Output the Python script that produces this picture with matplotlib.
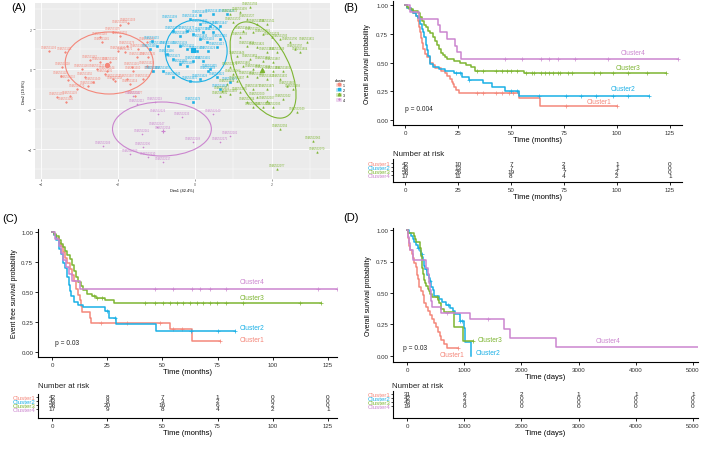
import numpy as np
import matplotlib.pyplot as plt
from matplotlib.patches import Ellipse, Patch
from matplotlib.lines import Line2D

plt.rcParams['font.family'] = ['Liberation Sans', 'DejaVu Sans']

clusters = ['Cluster1', 'Cluster2', 'Cluster3', 'Cluster4']
colors = ['#F4877A', '#1AB0E6', '#7DB532', '#CB85CF']

# ---------------- (A) cluster plot on the first two dimensions
pa1_x = [-3.79, -3.38, -3.45, -3.48, -3.30, -3.25, -3.35, -3.58, -2.94, -2.73, -2.47, -2.42, -2.47, -2.13,
         -1.95, -1.74, -1.95, -2.00, -2.21, -2.55, -2.29, -2.13, -2.08, -1.64, -1.82, -1.77, -1.48, -1.51,
         -1.61, -1.77, -1.69, -1.35, -1.25, -1.22, -1.25, -2.65, -2.86, -1.12, -3.06, -1.56, -2.78, -2.34]
pa1_y = [0.90, 0.85, 0.10, -0.35, -0.55, -1.35, -1.65, -1.40, 0.00, 0.45, 0.35, 1.35, 1.60, 1.85,
         2.20, 2.30, 1.65, 0.90, 0.35, 0.00, -0.10, -0.50, -0.60, 0.10, 0.85, 1.15, 1.00, 0.60,
         -0.10, -0.50, -0.75, -0.50, 0.15, 0.60, 1.35, -0.65, -0.40, -0.10, -1.00, -1.35, -0.85, -0.25]
pa2_x = [-0.65, 0.13, -0.13, 0.47, 0.83, 0.13, 0.39, 0.65, 0.47, 0.21, -0.05, -0.21, -0.57, -0.39, 0.13,
         0.31, 0.65, 0.57, 0.34, -0.21, -0.39, -0.70, -1.12, -0.99, -0.73, -0.57, -0.39, -0.21, -0.05,
         0.21, 0.34, 0.39, 0.57, 0.13, -0.13, -0.57, -0.83, -1.09, 0.65, 0.91, -0.05, -1.17, 0.05]
pa2_y = [2.45, 2.70, 2.50, 2.75, 2.75, 2.25, 2.15, 2.15, 1.85, 1.85, 1.75, 1.90, 1.90, 1.65, 1.50,
         1.35, 1.50, 1.10, 0.90, 1.00, 1.15, 1.15, 1.40, 1.15, 0.75, 0.50, 0.25, 0.15, 0.40,
         0.40, -0.10, 0.00, -0.40, -0.50, -0.60, -0.40, -0.10, -0.10, -1.00, -0.65, -1.65, 1.00, 0.90]
pa3_x = [1.17, 1.43, 0.91, 0.99, 1.35, 1.61, 1.87, 1.25, 1.51, 1.77, 1.17, 2.00, 2.21, 2.47, 2.60,
         2.73, 2.91, 1.35, 1.61, 1.87, 2.13, 1.09, 1.43, 1.77, 2.03, 0.91, 1.25, 1.51, 2.03, 2.29,
         1.35, 1.61, 1.87, 2.21, 1.09, 0.83, 0.70, 0.91, 1.17, 1.51, 1.87, 2.39, 2.55, 1.61, 1.87,
         1.35, 1.51, 1.77, 2.03, 2.29, 2.65, 2.21, 3.06, 3.17, 2.13, 0.99, 0.65, 1.77]
pa3_y = [2.85, 3.10, 2.75, 2.35, 2.50, 2.25, 2.25, 1.90, 1.85, 1.75, 1.60, 1.60, 1.50, 1.35, 1.00,
         0.85, 1.35, 1.15, 1.10, 0.85, 0.85, 0.65, 0.50, 0.40, 0.35, 0.10, 0.15, 0.00, -0.10, -0.10,
         -0.35, -0.40, -0.50, -0.50, -0.60, -0.75, -1.10, -1.25, -1.15, -1.00, -1.00, -0.85, -1.00, -1.40, -1.60,
         -1.65, -1.90, -1.90, -1.90, -1.50, -2.15, -3.00, -3.60, -4.15, -5.00, -0.25, -1.35, -0.05]
pa4_x = [-1.61, -1.51, -1.04, -0.96, -0.34, 0.47, -0.99, -0.83, -1.38, -0.05, 0.65, 0.91, -2.39, -1.35,
         -1.69, -1.22, -0.83]
pa4_y = [-1.35, -1.75, -1.65, -2.25, -2.40, -2.25, -2.90, -3.10, -3.25, -3.65, -3.65, -3.35, -3.85, -3.90,
         -4.25, -4.40, -4.65]

ell_cx = [-2.23, 0.03, 1.77, -0.86]
ell_cy = [0.30, 0.90, -0.05, -3.00]
ell_w = [2.29, 1.61, 4.9, 2.57]
ell_h = [3.10, 3.10, 1.45, 2.70]
ell_ang = [0, 0, -78.7, 0]

sample_ids = [f"GSM{2531104 + 7 * i}" for i in range(160)]

# ---------------- (B) overall survival, months
os1_t = [0, 1, 3, 4, 5, 6, 6.5, 7, 7.5, 8, 8.5, 9.5, 10.5, 12, 13, 14, 17, 19, 20, 21, 22, 22.5, 23, 24, 25.5, 54, 63.5]
os1_s = [1.0, 0.976, 0.952, 0.929, 0.905, 0.857, 0.810, 0.762, 0.714, 0.667, 0.619, 0.571, 0.548, 0.500,
         0.476, 0.452, 0.429, 0.405, 0.381, 0.357, 0.333, 0.310, 0.286, 0.262, 0.238, 0.19, 0.125]
os2_t = [0, 1, 3, 4, 5, 6, 7, 8, 8.5, 9, 10, 10.5, 11, 12, 13, 16, 19, 23, 27, 30, 37, 41, 47, 54]
os2_s = [1.0, 0.977, 0.953, 0.930, 0.907, 0.884, 0.837, 0.791, 0.767, 0.721, 0.651, 0.605, 0.558, 0.488,
         0.465, 0.442, 0.430, 0.407, 0.375, 0.344, 0.318, 0.291, 0.254, 0.212]
os3_t = [0, 1, 2, 4, 6, 7, 8, 9, 10, 11, 12, 13, 14, 15, 16, 17, 18, 19, 20, 23, 26, 29, 31, 33, 56]
os3_s = [1.0, 0.983, 0.966, 0.948, 0.931, 0.897, 0.862, 0.828, 0.810, 0.776, 0.759, 0.724, 0.690, 0.655,
         0.621, 0.586, 0.569, 0.552, 0.534, 0.517, 0.499, 0.481, 0.463, 0.430, 0.405]
os4_t = [0, 2.5, 6.5, 15.5, 16.5, 20, 23.5, 24.5, 26.5]
os4_s = [1.0, 0.941, 0.882, 0.824, 0.765, 0.706, 0.647, 0.588, 0.529]
os_end = [100, 115, 123, 129]
os1_c = [34, 37, 43, 46, 49, 51, 76, 100]
os2_c = [24, 26, 30, 50, 53, 63, 76, 83, 90, 98, 105, 115]
os3_c = [34, 37, 43, 46, 48, 50, 53, 57, 60, 61, 64, 66, 68, 70, 72, 73, 77, 79, 89, 92, 98, 105, 114, 123]
os4_c = [47, 55, 64, 68, 72, 80, 96, 129]
os_lab_t = [91.5, 102.8, 105, 107.5]
os_lab_s = [0.157, 0.27, 0.46, 0.59]
os_risk = [[42, 10, 7, 2, 1, 0], [43, 13, 7, 4, 1, 0], [58, 26, 19, 7, 2, 0], [17, 11, 8, 4, 2, 1]]

# ---------------- (C) event free survival, months
efs1_t = [0, 1, 2, 3, 4, 5, 6, 7, 8, 9, 10, 11, 12, 12.5, 13, 13.5, 17, 17.5, 53.5, 63.5]
efs1_s = [1.0, 0.976, 0.952, 0.905, 0.881, 0.833, 0.786, 0.738, 0.690, 0.643, 0.595, 0.524, 0.476, 0.429,
          0.381, 0.333, 0.286, 0.243, 0.19, 0.095]
efs2_t = [0, 1, 2, 3, 4, 5, 6, 7, 7.5, 8, 8.5, 10, 12, 14, 24, 26, 29, 47]
efs2_s = [1.0, 0.977, 0.930, 0.860, 0.814, 0.744, 0.698, 0.628, 0.558, 0.512, 0.465, 0.419, 0.395, 0.372,
          0.341, 0.279, 0.233, 0.175]
efs3_t = [0, 1, 2, 3, 4, 5, 6, 7, 8, 9, 10, 11, 12, 13, 14, 16, 18, 20, 24, 28]
efs3_s = [1.0, 0.983, 0.966, 0.931, 0.897, 0.879, 0.845, 0.810, 0.776, 0.724, 0.672, 0.621, 0.586, 0.552,
          0.517, 0.483, 0.466, 0.448, 0.431, 0.405]
efs4_t = [0, 1.5, 3, 4, 5, 6.5, 7.5, 9, 12.5]
efs4_s = [1.0, 0.941, 0.882, 0.824, 0.765, 0.706, 0.647, 0.588, 0.529]
efs_end = [76, 83, 122, 129]
efs1_c = [22, 34, 49, 55, 59, 76]
efs2_c = [25, 28.5, 63, 75, 83]
efs3_c = [19, 20.5, 22.5, 42, 46.6, 50.4, 53.4, 56.4, 59.5, 62.5, 65.5, 68.5, 71.5, 74.6, 79, 86.6, 112.3, 122]
efs4_c = [46.7, 55, 63.3, 67, 71.6, 79, 120.5, 129]
efs_lab_t = [90.5, 90.5, 90.5, 90.5]
efs_lab_s = [0.108, 0.20, 0.45, 0.586]
efs_risk = [[42, 8, 7, 1, 0, 0], [43, 8, 3, 2, 0, 0], [58, 20, 16, 6, 2, 0], [17, 9, 8, 4, 2, 1]]

# ---------------- (D) overall survival, days
osd1_t = [0, 10, 20, 30, 40, 60, 80, 100, 130, 150, 170, 180, 195, 205, 215, 250, 280, 295, 305, 340,
          370, 400, 430, 480, 510, 540, 570, 600, 640, 700]
osd1_s = [1.0, 0.968, 0.935, 0.903, 0.871, 0.839, 0.806, 0.774, 0.742, 0.710, 0.677, 0.645, 0.613, 0.581,
          0.548, 0.516, 0.484, 0.452, 0.419, 0.387, 0.355, 0.323, 0.290, 0.258, 0.226, 0.194, 0.161,
          0.129, 0.097, 0.065]
osd2_t = [0, 40, 70, 100, 130, 160, 190, 220, 240, 260, 280, 300, 320, 350, 380, 400, 420, 450, 480, 560,
          620, 680, 760, 800, 840, 930, 990, 1010, 1125]
osd2_s = [1.0, 0.976, 0.952, 0.929, 0.905, 0.881, 0.857, 0.833, 0.810, 0.786, 0.762, 0.714, 0.690, 0.643,
          0.619, 0.595, 0.548, 0.524, 0.476, 0.452, 0.429, 0.405, 0.381, 0.357, 0.333, 0.278, 0.222, 0.111, 0.0]
osd3_t = [0, 10, 130, 140, 150, 220, 230, 240, 250, 260, 270, 280, 290, 310, 330, 360, 380, 400, 430, 540,
          560, 600, 640, 830, 980]
osd3_s = [1.0, 0.977, 0.953, 0.930, 0.907, 0.884, 0.860, 0.837, 0.791, 0.744, 0.698, 0.651, 0.605, 0.581,
          0.558, 0.535, 0.512, 0.488, 0.465, 0.442, 0.419, 0.372, 0.349, 0.233, 0.116]
osd4_t = [0, 20, 40, 60, 110, 340, 360, 380, 400, 420, 440, 600, 1100, 1690, 1800, 2600]
osd4_s = [1.0, 0.947, 0.895, 0.842, 0.760, 0.700, 0.650, 0.580, 0.520, 0.440, 0.390, 0.340, 0.290, 0.215,
          0.143, 0.071]
osd_end = [900, 1125, 1160, 5080]
osd1_c = [900]
osd2_c = [200, 257, 330, 400, 720, 930, 960]
osd3_c = [520, 1160]
osd4_c = [700, 1420]
osd_lab_t = [781, 1410, 1451, 3520]
osd_lab_s = [0.008, 0.024, 0.127, 0.12]
osd_risk = [[31, 6, 2, 1, 1, 1], [42, 2, 0, 0, 0, 0], [43, 3, 0, 0, 0, 0], [19, 0, 0, 0, 0, 0]]

W, H = 709, 456


def box(x0, y0, x1, y1):
    return [x0 / W, 1 - y1 / H, (x1 - x0) / W, (y1 - y0) / H]


fig = plt.figure(figsize=(W / 100, H / 100), dpi=100)

# ---------------- panel A
axA = fig.add_axes(box(35, 4, 330, 180))
axA.set_facecolor('#EBEBEB')
axA.set_xlim(-4.16, 3.51)
axA.set_ylim(-5.5, 3.3)
axA.set_xticks([-4, -2, 0, 2])
axA.set_yticks([-4, -2, 0, 2])
axA.set_xticks([-3, -1, 1, 3], minor=True)
axA.set_yticks([-5, -3, -1, 1, 3], minor=True)
axA.grid(which='major', color='white', lw=0.6)
axA.grid(which='minor', color='white', lw=0.3)
axA.set_axisbelow(True)
for sp in axA.spines.values():
    sp.set_visible(False)
axA.tick_params(which='major', labelsize=2.6, length=1.5, width=0.4, color='#555555',
                labelcolor='#555555', pad=1)
axA.tick_params(which='minor', length=0)
axA.set_xlabel('Dim1 (42.4%)', fontsize=2.8, labelpad=1)
axA.set_ylabel('Dim2 (19.8%)', fontsize=2.8, labelpad=1)

pts = [(pa1_x, pa1_y), (pa2_x, pa2_y), (pa3_x, pa3_y), (pa4_x, pa4_y)]
markers = ['o', 's', '^', '+']
k = 0
for i, (xs, ys) in enumerate(pts):
    axA.scatter(xs, ys, s=1.3, color=colors[i], marker=markers[i], lw=0.4)
    for x, y in zip(xs, ys):
        axA.annotate(sample_ids[k], (x, y), xytext=(0, 1.2), textcoords='offset points',
                     fontsize=1.9, color=colors[i], ha='center', va='bottom')
        k += 1
    axA.scatter(np.mean(xs), np.mean(ys), s=9, marker=markers[i], color=colors[i], lw=0.8)
    axA.add_patch(Ellipse((ell_cx[i], ell_cy[i]), ell_w[i], ell_h[i], angle=ell_ang[i],
                          fill=False, color=colors[i], lw=0.8))

handles = [(Patch(facecolor=c, alpha=0.3, edgecolor=c, lw=0.5),
            Line2D([], [], marker=m, color=c, ls='', ms=1.8)) for c, m in zip(colors, markers)]
axA.legend(handles, ['1', '2', '3', '4'], title='cluster', loc='upper left',
           bbox_to_anchor=(333 / W, 1 - 77 / H), bbox_transform=fig.transFigure, frameon=False,
           fontsize=2.6, title_fontsize=2.8, handlelength=1.3, handleheight=1.2,
           labelspacing=0.25, handletextpad=0.4, borderpad=0)


# ---------------- survival panels
def km_axes(r, xlim, ylim, xticks, xlabel, ylabel, ypad):
    ax = fig.add_axes(box(*r))
    ax.set_xlim(xlim)
    ax.set_ylim(ylim)
    ax.set_xticks(xticks)
    ax.set_yticks([0, 0.25, 0.5, 0.75, 1.0])
    ax.set_yticklabels(['0.00', '0.25', '0.50', '0.75', '1.00'])
    ax.spines[['top', 'right']].set_visible(False)
    ax.spines[['left', 'bottom']].set_linewidth(0.8)
    ax.tick_params(labelsize=4.4, length=2, width=0.6, pad=1.5, labelcolor='#333333')
    ax.set_xlabel(xlabel, fontsize=5.5, labelpad=0.5)
    ax.set_ylabel(ylabel, fontsize=4.9, labelpad=ypad)
    return ax


def km(ax, t, s, cens, end, color):
    ax.step(list(t) + [end], list(s) + [s[-1]], where='post', color=color, lw=1.1)
    idx = np.searchsorted(t, cens, side='right') - 1
    ax.plot(cens, np.array(s)[idx], '+', color=color, ms=3, mew=0.5)


def risk_axes(r, xlim, ylim, xticks, xlabel, counts):
    ax = fig.add_axes(box(*r))
    ax.set_xlim(xlim)
    ax.set_ylim(ylim)
    ax.set_xticks(xticks)
    ax.set_yticks([4, 3, 2, 1])
    ax.set_yticklabels(clusters)
    for lab, c in zip(ax.get_yticklabels(), colors):
        lab.set_color(c)
    ax.spines[['top', 'right']].set_visible(False)
    ax.spines[['left', 'bottom']].set_linewidth(0.8)
    ax.tick_params(axis='x', labelsize=4.4, length=2, width=0.6, pad=1.5, labelcolor='#333333')
    ax.tick_params(axis='y', labelsize=4.4, length=1.5, width=0.5, pad=0.5)
    ax.set_xlabel(xlabel, fontsize=5.5, labelpad=0.5)
    for i, row in enumerate(counts):
        for x, n in zip(xticks, row):
            ax.text(x, 4 - i, str(n), ha='center', va='center', fontsize=4.6, color='#222222')
    return ax


m_ticks = [0, 25, 50, 75, 100, 125]
d_ticks = [0, 1000, 2000, 3000, 4000, 5000]

# B
axB = km_axes((393, 2, 682, 126), (-5.66, 130.7), (-0.043, 1.035), m_ticks,
              'Time (months)', 'Overall survival probability', 3.5)
for t, s, c, e, col in zip([os1_t, os2_t, os3_t, os4_t], [os1_s, os2_s, os3_s, os4_s],
                           [os1_c, os2_c, os3_c, os4_c], os_end, colors):
    km(axB, t, s, c, e, col)
for i in range(4):
    axB.text(os_lab_t[i], os_lab_s[i], clusters[i], color=colors[i], fontsize=4.8, ha='center', va='center')
axB.text(0, 0.104, 'p = 0.004', fontsize=4.8, ha='left', va='center', color='#222222')
risk_axes((393, 160, 682, 183), (-5.66, 130.7), (-0.75, 5), m_ticks, 'Time (months)', os_risk)
fig.text(393 / W, 1 - 154 / H, 'Number at risk', fontsize=5.7, va='center', color='#222222')

# C
axC = km_axes((38, 230, 337, 358), (-6.34, 129.1), (-0.042, 1.025), m_ticks,
              'Time (months)', 'Event free survival probability', 2)
for t, s, c, e, col in zip([efs1_t, efs2_t, efs3_t, efs4_t], [efs1_s, efs2_s, efs3_s, efs4_s],
                           [efs1_c, efs2_c, efs3_c, efs4_c], efs_end, colors):
    km(axC, t, s, c, e, col)
for i in range(4):
    axC.text(efs_lab_t[i], efs_lab_s[i], clusters[i], color=colors[i], fontsize=4.8, ha='center', va='center')
axC.text(1.4, 0.083, 'p = 0.03', fontsize=4.8, ha='left', va='center', color='#222222')
risk_axes((38, 395, 337, 419), (-6.34, 129.1), (-1.25, 4.75), m_ticks, 'Time (months)', efs_risk)
fig.text(38 / W, 1 - 387 / H, 'Number at risk', fontsize=5.7, va='center', color='#222222')

# D
axD = km_axes((393, 229, 698, 363), (-245, 5087), (-0.048, 1.016), d_ticks,
              'Time (days)', 'Overall survival probability', 3)
for t, s, c, e, col in zip([osd1_t, osd2_t, osd3_t, osd4_t], [osd1_s, osd2_s, osd3_s, osd4_s],
                           [osd1_c, osd2_c, osd3_c, osd4_c], osd_end, colors):
    km(axD, t, s, c, e, col)
for i in range(4):
    axD.text(osd_lab_t[i], osd_lab_s[i], clusters[i], color=colors[i], fontsize=4.8, ha='center', va='center')
axD.text(-64, 0.069, 'p = 0.03', fontsize=4.8, ha='left', va='center', color='#222222')
risk_axes((393, 392, 698, 419), (-245, 5087), (-2, 4.75), d_ticks, 'Time (days)', osd_risk)
fig.text(392 / W, 1 - 387 / H, 'Number at risk', fontsize=5.7, va='center', color='#222222')

# panel letters
for lab, x, y in [('(A)', 11, 8), ('(B)', 343, 8), ('(C)', 2, 219), ('(D)', 343, 218)]:
    fig.text(x / W, 1 - y / H, lab, fontsize=8, va='center', ha='left')

fig.savefig('out.png', dpi=100)
